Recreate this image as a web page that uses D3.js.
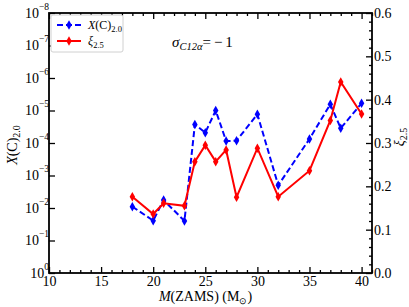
<!DOCTYPE html>
<html>
<head>
<meta charset="utf-8">
<title>X(C) and xi</title>
<script src="https://d3js.org/d3.v7.min.js"></script>
<style>
    body { margin: 0; background: #fff; }
    text { font-family: "Liberation Serif", "Times New Roman", serif; fill: #000; }
</style>
</head>
<body>
<div id="chart"></div>
<script>
    // data
    var masses = [18, 20, 21, 23, 24, 25, 26, 27, 28, 30, 32, 35, 37, 38, 40];
    var xc20 = [9.1e-3, 2.45e-2, 5.7e-3, 2.5e-2, 2.7e-5, 4.8e-5, 1.0e-5, 8.7e-5, 8.5e-5, 1.3e-5, 2.0e-3, 7.5e-5, 6.4e-6, 3.5e-5, 6.0e-6];
    var xi25 = [0.176, 0.136, 0.161, 0.155, 0.257, 0.295, 0.257, 0.284, 0.175, 0.288, 0.176, 0.236, 0.352, 0.441, 0.367];
    var xTicks = [10, 15, 20, 25, 30, 35, 40];
    var leftExp = [0, -1, -2, -3, -4, -5, -6, -7, -8];
    var rightTicks = [0, 0.1, 0.2, 0.3, 0.4, 0.5, 0.6];

    var width = 409, height = 307;
    var m = {left: 49, top: 13, right: 37, bottom: 34};
    var pw = width - m.left - m.right, ph = height - m.top - m.bottom;

    var svg = d3.select("#chart").append("svg")
        .attr("width", width).attr("height", height);
    var g = svg.append("g").attr("transform", "translate(" + m.left + "," + m.top + ")");

    var x = d3.scaleLinear().domain([10, 41]).range([0, pw]);
    var yL = d3.scaleLog().domain([1, 1e-8]).range([ph, 0]);
    var yR = d3.scaleLinear().domain([0, 0.6]).range([ph, 0]);

    var minorX = d3.range(10, 42, 1).filter(function (v) { return v % 5 !== 0; });
    var minorR = d3.range(0, 0.61, 0.02).filter(function (v) { return Math.abs(v * 10 - Math.round(v * 10)) > 1e-6; });

    function styleAxis(sel) {
        sel.select(".domain").remove();
        sel.selectAll(".tick line").attr("stroke", "#000").attr("stroke-width", 1.3);
        sel.selectAll("text").attr("font-size", 14).attr("fill", "#000");
    }

    // bottom
    var bx = g.append("g").attr("transform", "translate(0," + ph + ")")
        .call(d3.axisBottom(x).tickValues(xTicks).tickSize(-6).tickSizeOuter(0));
    styleAxis(bx);
    bx.selectAll("text").attr("dy", null).attr("y", 13);
    g.append("g").attr("transform", "translate(0," + ph + ")")
        .call(d3.axisBottom(x).tickValues(minorX).tickSize(-3).tickFormat(""))
        .call(styleAxis);

    // top
    g.append("g").call(d3.axisTop(x).tickValues(xTicks).tickSize(-6).tickFormat(""))
        .call(styleAxis);
    g.append("g").call(d3.axisTop(x).tickValues(minorX).tickSize(-3).tickFormat(""))
        .call(styleAxis);

    // left (log)
    var ly = g.append("g")
        .call(d3.axisLeft(yL).tickValues(leftExp.map(function (e) { return Math.pow(10, e); }))
            .tickSize(-6).tickFormat(""));
    styleAxis(ly);
    ly.selectAll(".tick").each(function (d) {
        var e = Math.round(Math.log10(d));
        var t = d3.select(this).append("text")
            .attr("x", 0).attr("dy", "0.32em")
            .attr("text-anchor", "end").attr("font-size", 14);
        t.append("tspan").text("10");
        t.append("tspan").attr("font-size", 9.5).attr("dy", "-0.85em")
            .text(e === 0 ? "0" : "\u2212" + Math.abs(e));
    });

    // right (linear)
    var ry = g.append("g").attr("transform", "translate(" + pw + ",0)")
        .call(d3.axisRight(yR).tickValues(rightTicks).tickSize(-6).tickFormat(d3.format(".1f")));
    styleAxis(ry);
    ry.selectAll("text").attr("x", 2);
    g.append("g").attr("transform", "translate(" + pw + ",0)")
        .call(d3.axisRight(yR).tickValues(minorR).tickSize(-3).tickFormat(""))
        .call(styleAxis);

    // frame
    g.append("rect").attr("width", pw).attr("height", ph)
        .attr("fill", "none").attr("stroke", "#000").attr("stroke-width", 1.8);

    var pts = masses.map(function (mv, i) { return {m: mv, c: xc20[i], xi: xi25[i]}; });
    var diamond = d3.symbol().type(d3.symbolDiamond).size(26);

    // X(C) blue dashed
    g.append("path").datum(pts)
        .attr("fill", "none").attr("stroke", "#0000ff").attr("stroke-width", 2)
        .attr("stroke-dasharray", "6,3")
        .attr("d", d3.line().x(function (d) { return x(d.m); }).y(function (d) { return yL(d.c); }));
    g.selectAll(".pc").data(pts).enter().append("path")
        .attr("class", "pc").attr("fill", "#0000ff")
        .attr("transform", function (d) { return "translate(" + x(d.m) + "," + yL(d.c) + ")"; })
        .attr("d", diamond);

    // xi red solid
    g.append("path").datum(pts)
        .attr("fill", "none").attr("stroke", "#ff0000").attr("stroke-width", 2)
        .attr("d", d3.line().x(function (d) { return x(d.m); }).y(function (d) { return yR(d.xi); }));
    g.selectAll(".px").data(pts).enter().append("path")
        .attr("class", "px").attr("fill", "#ff0000")
        .attr("transform", function (d) { return "translate(" + x(d.m) + "," + yR(d.xi) + ")"; })
        .attr("d", diamond);

    // legend
    var lg = svg.append("g").attr("transform", "translate(51,15)");
    lg.append("rect").attr("width", 72).attr("height", 37).attr("rx", 2)
        .attr("fill", "#fff").attr("stroke", "#d0d0d0").attr("stroke-width", 1);
    var items = [
        {color: "#0000ff", dash: "6,3", y: 10},
        {color: "#ff0000", dash: null, y: 26}
    ];
    items.forEach(function (it, i) {
        lg.append("line").attr("x1", 6).attr("x2", 30).attr("y1", it.y).attr("y2", it.y)
            .attr("stroke", it.color).attr("stroke-width", 2).attr("stroke-dasharray", it.dash);
        lg.append("path").attr("transform", "translate(18," + it.y + ")")
            .attr("fill", it.color).attr("d", diamond);
        var t = lg.append("text").attr("x", 37).attr("y", it.y + 4).attr("font-size", 12);
        if (i === 0) {
            t.append("tspan").attr("font-style", "italic").text("X");
            t.append("tspan").text("(C)");
            t.append("tspan").attr("font-size", 8.5).attr("dy", 3).text("2.0");
        } else {
            t.append("tspan").attr("font-style", "italic").text("\u03be");
            t.append("tspan").attr("font-size", 8.5).attr("dy", 3).text("2.5");
        }
    });

    // annotation
    var an = svg.append("text").attr("x", 172).attr("y", 47).attr("font-size", 15);
    an.append("tspan").attr("font-style", "italic").text("\u03c3");
    an.append("tspan").attr("font-style", "italic").attr("font-size", 10.5).attr("dy", 3).text("C12\u03b1");
    an.append("tspan").attr("dy", -3).text("=\u2009\u2212\u20091");

    // axis labels
    var xl = svg.append("text").attr("x", m.left + pw / 2 - 5).attr("y", 301)
        .attr("text-anchor", "middle").attr("font-size", 14);
    xl.append("tspan").attr("font-style", "italic").text("M");
    xl.append("tspan").text("(ZAMS) (M");
    xl.append("tspan").attr("font-size", 9).attr("dy", 3).text("\u2299");
    xl.append("tspan").attr("dy", -3).text(")");

    var yl = svg.append("text").attr("transform", "translate(17," + (m.top + ph / 2 + 2) + ") rotate(-90)")
        .attr("text-anchor", "middle").attr("font-size", 14);
    yl.append("tspan").attr("font-style", "italic").text("X");
    yl.append("tspan").text("(C)");
    yl.append("tspan").attr("font-size", 10).attr("dy", 3).text("2.0");

    var yr = svg.append("text").attr("transform", "translate(404," + (m.top + ph / 2 - 6) + ") rotate(-90)")
        .attr("text-anchor", "middle").attr("font-size", 14);
    yr.append("tspan").attr("font-style", "italic").text("\u03be");
    yr.append("tspan").attr("font-size", 10).attr("dy", 3).text("2.5");
</script>
</body>
</html>
